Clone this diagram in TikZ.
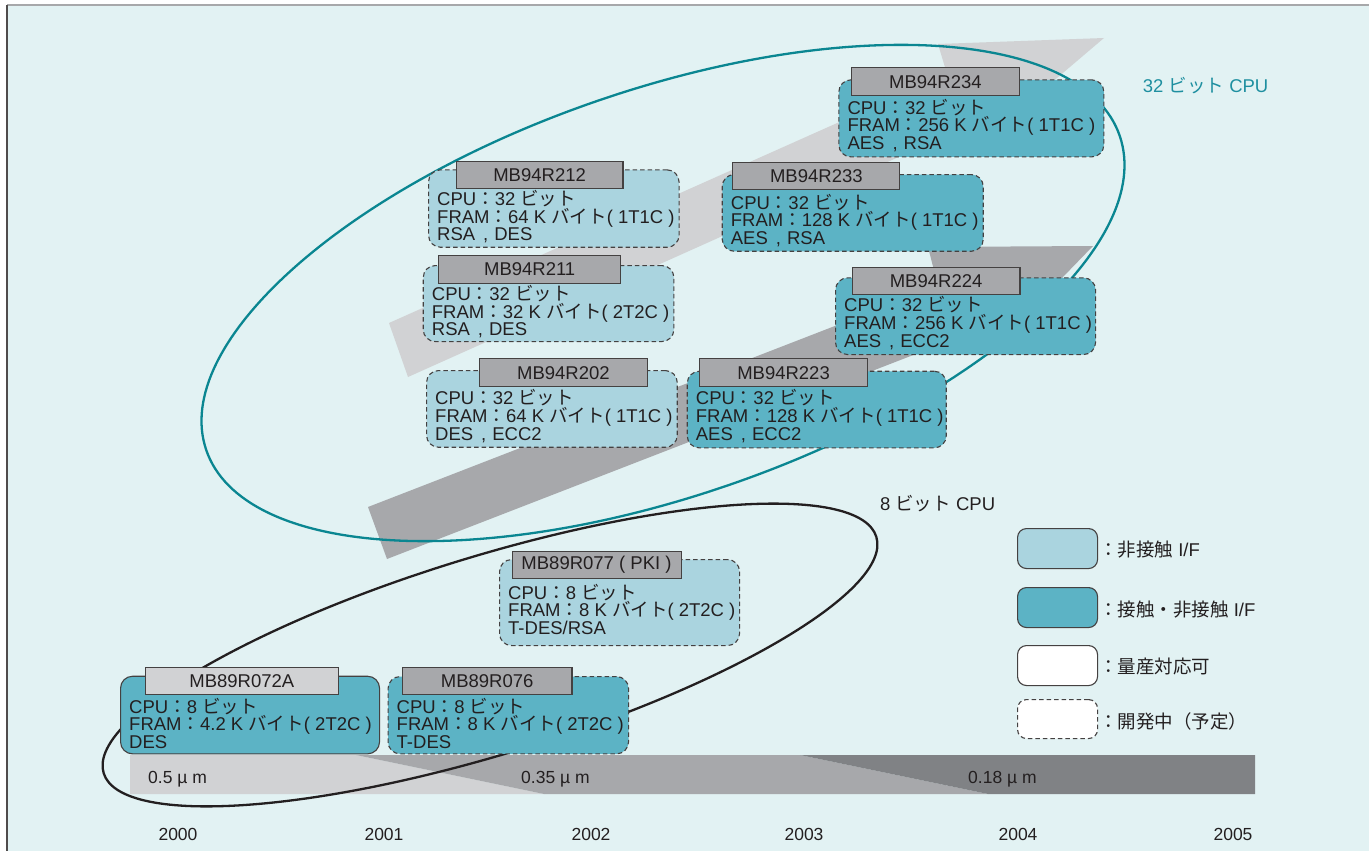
\documentclass[tikz,border=0pt]{standalone}
\usepackage{fontspec}
\setmainfont{Liberation Sans}
\newfontfamily\jpfont{Noto Sans CJK JP}
\newcommand\J[1]{{\jpfont #1}}
\newcommand\fs{\fontsize{18.5pt}{18.5pt}\selectfont}
\newcommand\fsb{\fontsize{17.5pt}{17.5pt}\selectfont}
\newcommand\cm{\hspace{8pt},\hspace{6pt}}
\definecolor{bgc}{HTML}{E2F2F3}
\definecolor{gA}{HTML}{D1D2D4}
\definecolor{gB}{HTML}{A7A8AB}
\definecolor{gC}{HTML}{808285}
\definecolor{cardL}{HTML}{AAD4DF}
\definecolor{cardT}{HTML}{5CB3C5}
\definecolor{txt}{HTML}{231F20}
\definecolor{tealc}{HTML}{0A8691}
\definecolor{tealt}{HTML}{1E8FA0}
\tikzset{
  dashedbox/.style={dash pattern=on 4.5pt off 3pt},
  card/.style={draw=txt!85, rounded corners=12pt, line width=1.1pt, inner sep=0pt, anchor=north west},
  lab/.style={draw=txt!85, fill=gB, line width=1.1pt, minimum height=27.6pt, inner sep=0pt, font=\fs, text=txt, anchor=north west},
  ctext/.style={anchor=base west, inner sep=0pt, font=\fs, text=txt},
  legbox/.style={draw=txt!85, rounded corners=9pt, line width=1.1pt, inner sep=0pt, anchor=north west, minimum width=80pt, minimum height=40pt},
  ltext/.style={anchor=base west, inner sep=0pt, font=\fs, text=txt},
  btext/.style={anchor=base west, inner sep=0pt, font=\fsb, text=txt},
  ytext/.style={anchor=base, inner sep=0pt, font=\fsb, text=txt},
}
\newcommand\CardText[5]{%
  \node[ctext] (#1-1) at ([xshift=9pt,yshift={-(#2-0.3)*1pt}]#1.north west) {#3};
  \node[ctext] (#1-2) at ([xshift=9pt,yshift={-(#2+17.4)*1pt}]#1.north west) {#4};
  \node[ctext] (#1-3) at ([xshift=9pt,yshift={-(#2+35.1)*1pt}]#1.north west) {#5};}
\begin{document}
\begin{tikzpicture}[x=1pt,y=-1pt]
\useasboundingbox (0,0) rectangle (1369,851);
\fill[white] (0,0) rectangle (1369,851);
\fill[bgc] (7,5) rectangle (1369,851);
\draw[gA!80!black, line width=1.2pt] (7,5) -- (1369,5);
\draw[txt!80, line width=2pt] (7,5) -- (7,851);

% process bar
\fill[gA] (130,755) -- (356,755) -- (544,794) -- (130,794) -- cycle;
\fill[gB] (356,755) -- (800,755) -- (988,794) -- (544,794) -- cycle;
\fill[gC] (800,755) -- (1255,755) -- (1255,794) -- (988,794) -- cycle;

% big arrows
\fill[gA] (389,323) -- (947,74) -- (938,44) -- (1104,38) -- (1037,95) -- (408,377) -- cycle;
\fill[gB] (368,507) -- (938,286) -- (928,247) -- (1093,246) -- (1032,309) -- (387,559) -- cycle;

% ellipses
\draw[tealc, line width=2.3pt, rotate around={19:(663,293)}] (663,293) ellipse [x radius=483pt, y radius=203pt];
\draw[txt, line width=2.3pt, rotate around={17:(490,655)}] (490,655) ellipse [x radius=404pt, y radius=99pt];

% cards
\node[card, dashedbox, fill=cardT, minimum width=265pt, minimum height=77pt] (c234) at (838.3,79.3) {};
\node[lab, minimum width=167.7pt] (c234-lab) at (851,67.3) {MB94R234};
\CardText{c234}{35}{CPU\J{：}32 \J{ビット}}{FRAM\J{：}256 K \J{バイト}( 1T1C )}{AES\cm RSA}

\node[card, dashedbox, fill=cardL, minimum width=250.5pt, minimum height=77.4pt] (c212) at (428,169.3) {};
\node[lab, minimum width=166.7pt] (c212-lab) at (455.7,160.7) {MB94R212};
\CardText{c212}{36.5}{CPU\J{：}32 \J{ビット}}{FRAM\J{：}64 K \J{バイト}( 1T1C )}{RSA\cm DES}

\node[card, dashedbox, fill=cardT, minimum width=261pt, minimum height=76.7pt] (c233) at (721.7,174) {};
\node[lab, minimum width=167pt] (c233-lab) at (732.3,161.7) {MB94R233};
\CardText{c233}{35.3}{CPU\J{：}32 \J{ビット}}{FRAM\J{：}128 K \J{バイト}( 1T1C )}{AES\cm RSA}

\node[card, dashedbox, fill=cardL, minimum width=250.6pt, minimum height=76pt] (c211) at (422.7,265) {};
\node[lab, minimum width=181.7pt] (c211-lab) at (438.3,255) {MB94R211};
\CardText{c211}{35.7}{CPU\J{：}32 \J{ビット}}{FRAM\J{：}32 K \J{バイト}( 2T2C )}{RSA\cm DES}

\node[card, dashedbox, fill=cardT, minimum width=260pt, minimum height=76.7pt] (c224) at (835,277.3) {};
\node[lab, minimum width=167.7pt] (c224-lab) at (851.7,266.7) {MB94R224};
\CardText{c224}{34.6}{CPU\J{：}32 \J{ビット}}{FRAM\J{：}256 K \J{バイト}( 1T1C )}{AES\cm ECC2}

\node[card, dashedbox, fill=cardL, minimum width=250.7pt, minimum height=76.7pt] (c202) at (426,370) {};
\node[lab, minimum width=167.7pt] (c202-lab) at (479,358.3) {MB94R202};
\CardText{c202}{35}{CPU\J{：}32 \J{ビット}}{FRAM\J{：}64 K \J{バイト}( 1T1C )}{DES\cm ECC2}

\node[card, dashedbox, fill=cardT, minimum width=259pt, minimum height=76.6pt] (c223) at (686.7,370.7) {};
\node[lab, minimum width=167.4pt] (c223-lab) at (699.3,358.3) {MB94R223};
\CardText{c223}{34.5}{CPU\J{：}32 \J{ビット}}{FRAM\J{：}128 K \J{バイト}( 1T1C )}{AES\cm ECC2}

\node[card, dashedbox, fill=cardL, minimum width=240pt, minimum height=86pt] (c077) at (499,559) {};
\node[lab, minimum width=169pt] (c077-lab) at (511.5,550.7) {MB89R077 ( PKI )};
\CardText{c077}{40.5}{CPU\J{：}8 \J{ビット}}{FRAM\J{：}8 K \J{バイト}( 2T2C )}{T-DES/RSA}

\node[card, fill=cardT, minimum width=259pt, minimum height=77.6pt] (c072) at (120,675.7) {};
\node[lab, fill=gA, minimum width=192.5pt] (c072-lab) at (145,666.7) {MB89R072A};
\CardText{c072}{37.6}{CPU\J{：}8 \J{ビット}}{FRAM\J{：}4.2 K \J{バイト}( 2T2C )}{DES}

\node[card, dashedbox, fill=cardT, minimum width=240.5pt, minimum height=77.3pt] (c076) at (387.5,676) {};
\node[lab, minimum width=169.6pt] (c076-lab) at (401.8,666.7) {MB89R076};
\CardText{c076}{37.3}{CPU\J{：}8 \J{ビット}}{FRAM\J{：}8 K \J{バイト}( 2T2C )}{T-DES}

% group labels
\node[anchor=base west, inner sep=0pt, font=\fs, text=tealt] (g32) at (1142.7,92.7) {32 \J{ビット} CPU};
\node[anchor=base west, inner sep=0pt, font=\fs, text=txt] (g8) at (879.8,510.7) {8 \J{ビット} CPU};

% legend
\node[legbox, fill=cardL] (lg1) at (1017,528) {};
\node[legbox, fill=cardT] (lg2) at (1017,587) {};
\node[legbox, fill=white] (lg3) at (1017,645) {};
\node[legbox, dashedbox, fill=white, minimum height=39pt] (lg4) at (1017,699) {};
\node[ltext] (lt1) at (1099,556.5) {\J{：非接触} I/F};
\node[ltext] (lt2) at (1099,616.5) {\J{：接触・非接触} I/F};
\node[ltext] (lt3) at (1099,673.5) {\J{：量産対応可}};
\node[ltext] (lt4) at (1099,728.5) {\J{：開発中（予定）}};

% bar texts
\node[btext] (p1) at (148,783) {0.5 µ m};
\node[btext] (p2) at (521,783) {0.35 µ m};
\node[btext] (p3) at (968,783) {0.18 µ m};

% years
\node[ytext] (y0) at (178,840.5) {2000};
\node[ytext] (y1) at (384,840.5) {2001};
\node[ytext] (y2) at (591,840.5) {2002};
\node[ytext] (y3) at (804,840.5) {2003};
\node[ytext] (y4) at (1018,840.5) {2004};
\node[ytext] (y5) at (1233,840.5) {2005};
\end{tikzpicture}
\end{document}
